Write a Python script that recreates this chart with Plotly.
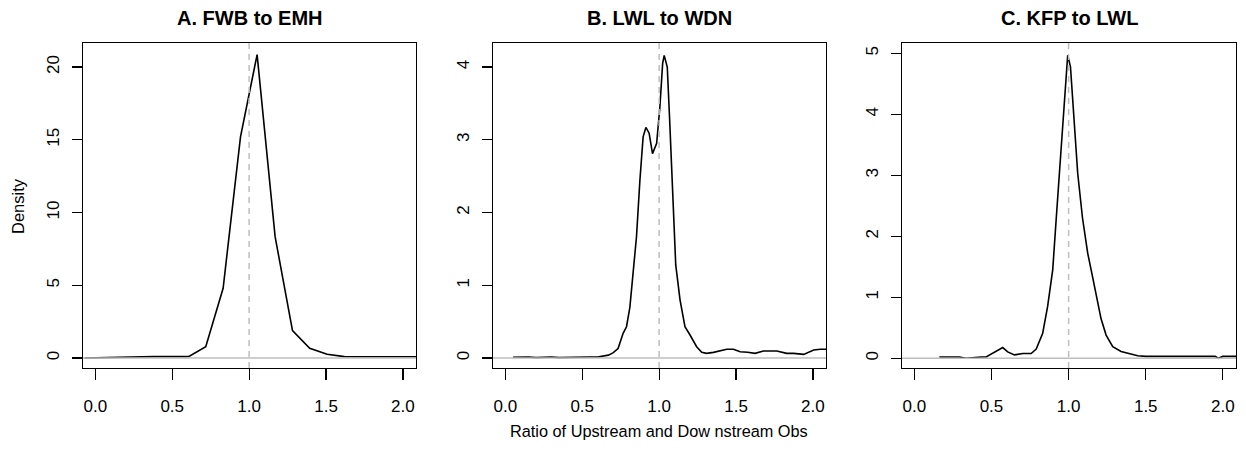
import plotly.graph_objects as go

# ---------------- data ----------------
titles = ["A. FWB to EMH", "B. LWL to WDN", "C. KFP to LWL"]

A_x = [-0.07, 0.042, 0.155, 0.268, 0.381, 0.493, 0.606, 0.718, 0.831, 0.944, 1.052,
       1.169, 1.282, 1.394, 1.507, 1.62, 1.732, 1.845, 1.958, 2.07, 2.18]
A_y = [0.0, 0.02, 0.09, 0.09, 0.09, 0.09, 0.09, 0.78, 4.79, 15.2, 20.85,
       8.34, 1.88, 0.66, 0.25, 0.09, 0.08, 0.08, 0.08, 0.08, 0.08]

B_x = [0.05, 0.1, 0.15, 0.2, 0.25, 0.3, 0.35, 0.4, 0.45, 0.5, 0.55, 0.6, 0.636, 0.67,
       0.70, 0.733, 0.766, 0.788, 0.81, 0.831, 0.853, 0.875, 0.896, 0.914, 0.935, 0.957,
       0.984, 1.005, 1.023, 1.033, 1.053, 1.068, 1.088, 1.108, 1.136, 1.168, 1.2, 1.244,
       1.277, 1.309, 1.353, 1.40, 1.44, 1.483, 1.527, 1.575, 1.624, 1.678, 1.72, 1.765,
       1.83, 1.874, 1.94, 2.005, 2.048, 2.09]
B_y = [0.01, 0.015, 0.015, 0.005, 0.01, 0.015, 0.005, 0.01, 0.015, 0.01, 0.015, 0.015, 0.03, 0.04,
       0.07, 0.13, 0.34, 0.43, 0.70, 1.2, 1.67, 2.44, 3.04, 3.17, 3.09, 2.81,
       2.95, 3.45, 4.05, 4.16, 4.0, 3.3, 2.25, 1.28, 0.80, 0.43, 0.32, 0.155,
       0.078, 0.064, 0.078, 0.10, 0.12, 0.12, 0.087, 0.08, 0.064, 0.096, 0.10, 0.096,
       0.064, 0.064, 0.05, 0.11, 0.12, 0.12]

C_x = [0.162, 0.2, 0.25, 0.292, 0.335, 0.37, 0.4, 0.435, 0.465, 0.508, 0.54, 0.573, 0.605,
       0.649, 0.703, 0.757, 0.79, 0.811, 0.832, 0.864, 0.897, 0.92, 0.94, 0.962, 0.98, 0.994,
       1.012, 1.035, 1.059, 1.09, 1.124, 1.15, 1.178, 1.21, 1.243, 1.286, 1.34, 1.394, 1.448,
       1.5, 1.6, 1.7, 1.8, 1.9, 1.95, 1.97, 2.0, 2.05, 2.09]
C_y = [0.02, 0.02, 0.02, 0.02, 0.0, 0.01, 0.02, 0.02, 0.02, 0.077, 0.13, 0.175, 0.104,
       0.055, 0.077, 0.077, 0.15, 0.27, 0.41, 0.85, 1.45, 2.3, 3.03, 3.9, 4.6, 4.97,
       4.78, 3.9, 3.03, 2.3, 1.72, 1.4, 1.06, 0.65, 0.38, 0.19, 0.11, 0.08, 0.04,
       0.03, 0.03, 0.03, 0.03, 0.03, 0.03, 0.0, 0.03, 0.03, 0.03]

x_ticks = [0.0, 0.5, 1.0, 1.5, 2.0]
y_ticks = [[0, 5, 10, 15, 20], [0, 1, 2, 3, 4], [0, 1, 2, 3, 4, 5]]
y_ranges = [[-0.69, 21.65], [-0.137, 4.33], [-0.16, 5.17]]
x_range = [-0.08, 2.085]
ref_x = 1.0
ref_y = 0.0

xlabel = "Ratio of Upstream and Dow nstream Obs"
ylabel = "Density"

# ---------------- layout ----------------
W, H = 1246, 455
FONT = "Liberation Sans, Arial, Helvetica, sans-serif"
x_domains = [[83 / W, 416 / W], [493 / W, 826 / W], [902 / W, 1236 / W]]
y_domain = [1 - 368 / H, 1 - 43 / H]

series = [(A_x, A_y), (B_x, B_y), (C_x, C_y)]

fig = go.Figure()
layout = dict(
    width=W, height=H, autosize=False,
    margin=dict(l=0, r=0, t=0, b=0),
    paper_bgcolor="white", plot_bgcolor="white",
    showlegend=False,
    font=dict(family=FONT, color="black", size=16),
)
shapes = []
annotations = []
for i, (xs, ys) in enumerate(series):
    sfx = "" if i == 0 else str(i + 1)
    fig.add_trace(go.Scatter(x=xs, y=ys, mode="lines",
                             line=dict(color="black", width=1.6),
                             xaxis="x" + sfx, yaxis="y" + sfx,
                             hoverinfo="skip"))
    layout["xaxis" + sfx] = dict(
        domain=x_domains[i], range=x_range, anchor="y" + sfx,
        tickmode="array", tickvals=x_ticks,
        ticktext=["%.1f" % v for v in x_ticks],
        ticks="outside", ticklen=11, tickwidth=1.2, tickcolor="black",
        showline=True, mirror=True, linecolor="black", linewidth=1.3,
        showgrid=False, zeroline=False,
        tickfont=dict(family=FONT, size=17, color="black"),
        ticklabelstandoff=11,
    )
    layout["yaxis" + sfx] = dict(
        domain=y_domain, range=y_ranges[i], anchor="x" + sfx,
        tickmode="array", tickvals=y_ticks[i],
        ticktext=[str(v) for v in y_ticks[i]],
        ticks="outside", ticklen=10, tickwidth=1.2, tickcolor="black",
        tickangle=-90,
        showline=True, mirror=True, linecolor="black", linewidth=1.3,
        showgrid=False, zeroline=False,
        tickfont=dict(family=FONT, size=17, color="black"),
        ticklabelstandoff=6,
    )
    xref = "x" + sfx
    yref = "y" + sfx
    # horizontal gray reference line at y = 0
    shapes.append(dict(type="line", xref=xref + " domain", yref=yref,
                       x0=0, x1=1, y0=ref_y, y1=ref_y,
                       line=dict(color="#BEBEBE", width=1.6), layer="above"))
    # vertical dashed gray reference line at x = 1
    shapes.append(dict(type="line", xref=xref, yref=yref + " domain",
                       x0=ref_x, x1=ref_x, y0=0, y1=1,
                       line=dict(color="#BEBEBE", width=1.5, dash="6px,5px"),
                       layer="above"))
    annotations.append(dict(text="<b>" + titles[i] + "</b>", xref="paper", yref="paper",
                            x=(x_domains[i][0] + x_domains[i][1]) / 2, y=1 - 18 / H,
                            xanchor="center", yanchor="middle", showarrow=False,
                            font=dict(family=FONT, size=20, color="black")))

annotations.append(dict(text=ylabel, xref="paper", yref="paper",
                        x=18 / W, y=1 - 206 / H, textangle=-90,
                        xanchor="center", yanchor="middle", showarrow=False,
                        font=dict(family=FONT, size=16.5, color="black")))
annotations.append(dict(text=xlabel, xref="paper", yref="paper",
                        x=(x_domains[1][0] + x_domains[1][1]) / 2, y=1 - 431 / H,
                        xanchor="center", yanchor="middle", showarrow=False,
                        font=dict(family=FONT, size=16.3, color="black")))

layout["shapes"] = shapes
layout["annotations"] = annotations
fig.update_layout(**layout)

fig.write_html("out.html",
               config={"displayModeBar": False, "staticPlot": True},
               post_script="document.body.style.margin='0';document.body.style.overflow='hidden';")
